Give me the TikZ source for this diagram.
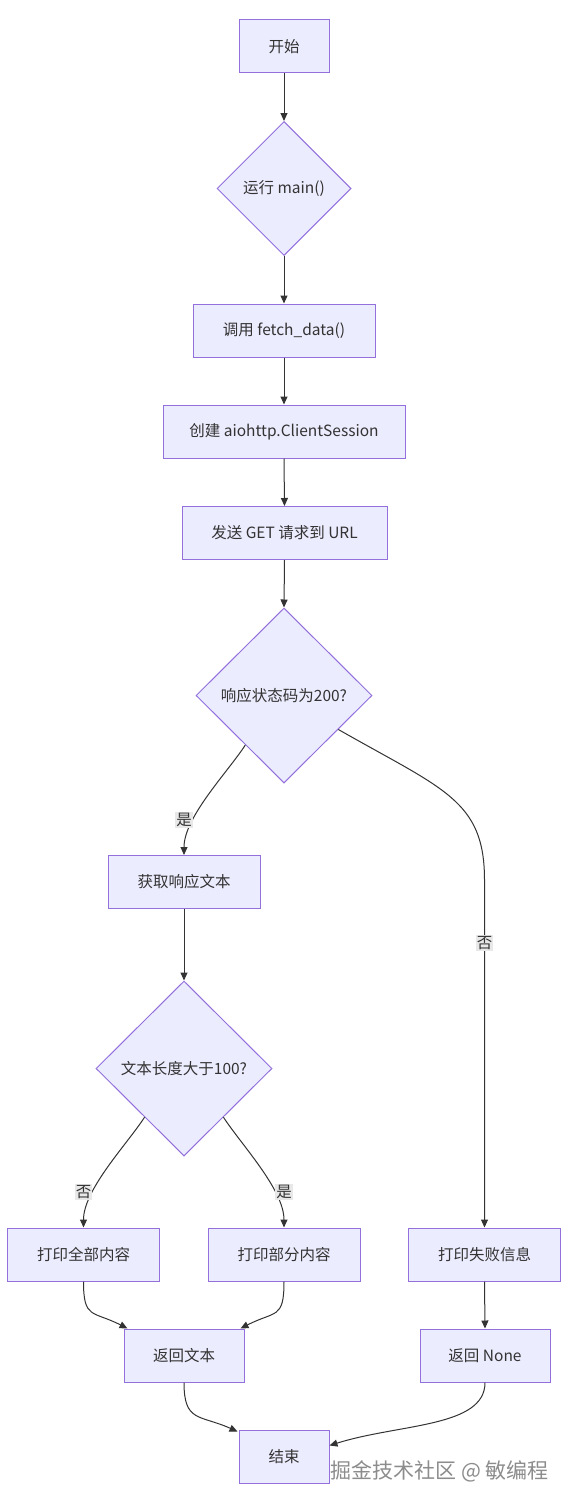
\documentclass[tikz,border=0pt]{standalone}
\usepackage{fontspec}
\setmainfont{Noto Sans CJK SC}
\usetikzlibrary{shapes.geometric,arrows.meta}
\definecolor{nodefill}{HTML}{ECECFF}
\definecolor{nodeline}{HTML}{9370DB}
\definecolor{txtc}{HTML}{333333}
\definecolor{edgec}{HTML}{333333}
\definecolor{lblbg}{HTML}{E8E8E8}
\definecolor{wmc}{HTML}{8C8C8C}
\newcommand\nfont{\fontsize{15.5}{18}\selectfont}
\begin{document}
\begin{tikzpicture}[x=1pt,y=-1pt,
  proc/.style={rectangle, draw=nodeline, fill=nodefill, line width=1pt, text=txtc, font=\nfont, minimum height=53pt, inner sep=0pt},
  dec/.style={diamond, aspect=1, draw=nodeline, fill=nodefill, line width=1pt, text=txtc, font=\nfont, inner sep=0pt},
  conn/.style={draw=edgec, line width=1pt, -{Triangle[length=8pt,width=7pt]}},
  elabel/.style={fill=lblbg, text=txtc, font=\nfont, inner sep=1pt}]
\fill[white] (0,0) rectangle (568,1504);
\useasboundingbox (0,0) rectangle (568,1504);

% nodes
\node[proc, minimum width=90pt]  (start) at (284,46.5) {开始};
\node[dec, minimum width=134pt, minimum height=134pt] (main) at (284,188.5) {运行 main()};
\node[proc, minimum width=182pt] (fetch) at (284,330.5) {调用 fetch\_data()};
\node[proc, minimum width=242pt] (sess) at (284,431.5) {创建 aiohttp.ClientSession};
\node[proc, minimum width=205pt] (send) at (284.5,533) {发送 GET 请求到 URL};
\node[dec, minimum width=176pt, minimum height=175pt] (resp) at (284,695.5) {响应状态码为200?};
\node[proc, minimum width=152pt] (get) at (184,882) {获取响应文本};
\node[dec, minimum width=176pt, minimum height=175pt] (len) at (184,1068.5) {文本长度大于100?};
\node[proc, minimum width=152pt] (all) at (83.5,1254.5) {打印全部内容};
\node[proc, minimum width=152pt] (part) at (284,1254.5) {打印部分内容};
\node[proc, minimum width=152pt] (fail) at (484.5,1254.5) {打印失败信息};
\node[proc, minimum width=120pt] (ret) at (184,1355.5) {返回文本};
\node[proc, minimum width=130pt] (none) at (485,1355.5) {返回 None};
\node[proc, minimum width=90pt] (end) at (284,1456.5) {结束};

% bend point of the long branch
\coordinate (bno1) at (484.5,880);

% connectors
\draw[conn] (start.south) -- (main.north);
\draw[conn] (main.south) -- (fetch.north);
\draw[conn] (fetch.south) -- (sess.north);
\draw[conn] (sess.south) -- (send.north);
\draw[conn] (send.south) -- (resp.north);
\draw[conn] (resp.-128) .. controls +(-17.5,27) and +(0,-38) .. (get.north);
\draw[conn] (resp.-32) .. controls +(105,60) and +(0,-80) .. (bno1) -- (fail.north);
\draw[conn] (get.south) -- (len.north);
\draw[conn] (len.-129) .. controls +(-17.5,27) and +(0,-38) .. (all.north);
\draw[conn] (len.-51) .. controls +(17.5,27) and +(0,-38) .. (part.north);
\draw[conn] (all.south) .. controls +(0,38) and +(-35,-18) .. ([xshift=4pt]ret.north west);
\draw[conn] (part.south) .. controls +(0,38) and +(35,-18) .. ([xshift=-4pt]ret.north east);
\draw[conn] (fail.south) -- (none.north);
\draw[conn] (ret.south) .. controls +(0,40) and +(-38,-17) .. ([xshift=-1pt,yshift=-2pt]end.north west);
\draw[conn] (none.south) .. controls +(0,45) and +(70,-22) .. ([yshift=11pt]end.east);

% edge labels
\node[elabel] (tyes1) at (184,820) {是};
\node[elabel] (tno1) at (484.5,943) {否};
\node[elabel] (tno2) at (83.5,1192) {否};
\node[elabel] (tyes2) at (284,1192) {是};

% watermark
\node[text=wmc, font=\fontsize{21}{24}\selectfont, inner sep=0pt] (wm) at (439.5,1471) {掘金技术社区 @ 敏编程};
\end{tikzpicture}
\end{document}
